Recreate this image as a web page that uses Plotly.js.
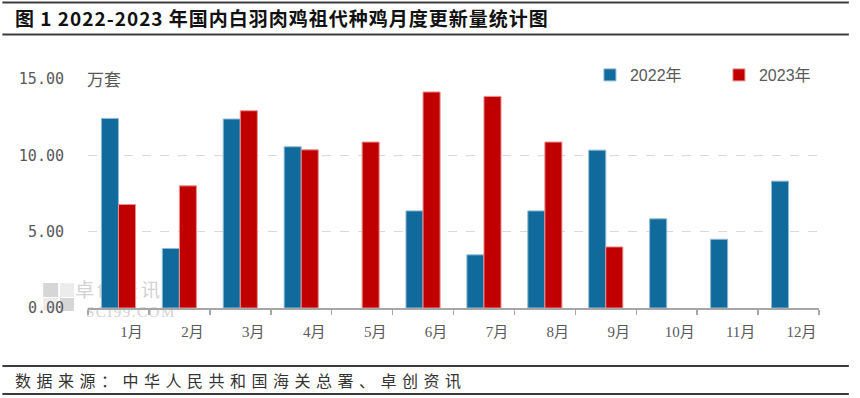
<!DOCTYPE html>
<html>
<head>
<meta charset="utf-8">
<script src="https://cdn.plot.ly/plotly-3.0.1.min.js"></script>
<style>
  html, body { margin: 0; padding: 0; background: #fff; }
  #chart { width: 860px; height: 398px; }
</style>
</head>
<body>
<div id="chart"></div>
<script>
// ---- data ----
const months = ['1月','2月','3月','4月','5月','6月','7月','8月','9月','10月','11月','12月'];
const series2022 = [12.42, 3.90, 12.38, 10.56, null, 6.36, 3.48, 6.36, 10.34, 5.84, 4.50, 8.31];
const series2023 = [6.78, 8.00, 12.92, 10.36, 10.87, 14.15, 13.86, 10.87, 4.00, null, null, null];
const seriesNames = ['2022年', '2023年'];
const yTickVals = [0, 5, 10, 15];
const yTickText = ['0.00', '5.00', '10.00', '15.00'];
const unitLabel = '万套';
const titleText = '图 1 2022-2023 年国内白羽肉鸡祖代种鸡月度更新量统计图';
const sourceText = '数据来源：中华人民共和国海关总署、卓创资讯';

// ---- layout geometry helpers (pixel -> paper) ----
const W = 860, H = 398;
const M = { l: 88, r: 38, t: 79, b: 90 };
const PW = W - M.l - M.r, PH = H - M.t - M.b;
const px = x => (x - M.l) / PW;
const py = y => (H - M.b - y) / PH;

const BLUE = '#106a9c', RED = '#c00000';

const traces = [
  { type: 'bar', name: seriesNames[0], x: months, y: series2022,
    marker: { color: BLUE, line: { color: '#8fbad6', width: 1 } }, hoverinfo: 'skip' },
  { type: 'bar', name: seriesNames[1], x: months, y: series2023,
    marker: { color: RED, line: { color: '#e89090', width: 1 } }, hoverinfo: 'skip' }
];

function hline(y, w) {
  return { type: 'line', xref: 'paper', yref: 'paper', x0: px(2), x1: px(852), y0: py(y), y1: py(y),
           line: { color: '#3c3c3c', width: w } };
}
function rect(x0, y0, x1, y1, c) {
  return { type: 'rect', layer: 'below', xref: 'paper', yref: 'paper', x0: px(x0), x1: px(x1), y0: py(y1), y1: py(y0),
           line: { width: 0 }, fillcolor: c };
}

const layout = {
  width: W, height: H,
  margin: M,
  paper_bgcolor: '#fff', plot_bgcolor: 'rgba(0,0,0,0)',
  barmode: 'group', bargap: 0.44, bargroupgap: 0,
  showlegend: true,
  legend: {
    orientation: 'h', x: px(592), xanchor: 'left', y: py(75), yanchor: 'middle',
    font: { family: 'Liberation Sans, Noto Sans CJK SC', size: 16, color: '#595959' },
    bgcolor: '#fff', itemclick: false, entrywidthmode: 'pixels', entrywidth: 84
  },
  title: {
    text: '<span style="letter-spacing:1px">' + titleText + '</span>',
    font: { family: 'Noto Sans CJK SC', size: 19, weight: 700, color: '#111' },
    x: 15 / W, xanchor: 'left', xref: 'container',
    y: 1 - 19 / H, yanchor: 'middle', yref: 'container'
  },
  xaxis: {
    type: 'category', showgrid: false, zeroline: false,
    showline: true, linecolor: '#a6a6a6', linewidth: 1.5,
    ticks: 'outside', tickson: 'boundaries', ticklen: 5, tickwidth: 1.5, tickcolor: '#a6a6a6',
    tickfont: { family: 'Liberation Serif, Noto Sans CJK SC', size: 15, color: '#595959' },
    ticklabelshift: 13, ticklabelstandoff: 9, fixedrange: true
  },
  yaxis: {
    range: [0, 15], tickmode: 'array', tickvals: yTickVals, ticktext: yTickText,
    showgrid: true, gridcolor: '#d9d9d9', gridwidth: 1, griddash: 'dash',
    zeroline: false, showline: false, ticks: '',
    tickfont: { family: 'DejaVu Sans Mono', size: 15, color: '#595959' },
    ticklabelstandoff: 23, fixedrange: true
  },
  shapes: [
    hline(2.5, 2), hline(34.5, 2), hline(366, 2), hline(394, 2),
    rect(43, 283, 58, 297, '#d6d6d6'), rect(60, 283, 74, 297, '#ececec'),
    rect(43, 298, 58, 311, '#ececec'), rect(60, 298, 74, 311, '#d6d6d6')
  ],
  annotations: [
    { text: '<span style="letter-spacing:3px">卓创资讯</span>', xref: 'paper', yref: 'paper',
      x: px(74), y: py(288), xanchor: 'left', yanchor: 'middle', showarrow: false, borderpad: 0,
      font: { family: 'Noto Sans CJK SC', size: 19, color: '#d2d2d2' } },
    { text: '<span style="letter-spacing:1.5px">SCI99.COM</span>', xref: 'paper', yref: 'paper',
      x: px(85), y: py(312), xanchor: 'left', yanchor: 'middle', showarrow: false, borderpad: 0,
      font: { family: 'Liberation Serif', size: 15, color: '#d2d2d2' } },
    { text: unitLabel, xref: 'paper', yref: 'paper', x: px(85), y: py(78.5),
      xanchor: 'left', yanchor: 'middle', showarrow: false, bgcolor: '#fff',
      font: { family: 'Noto Sans CJK SC', size: 17, color: '#595959' } },
    { text: '<span style="letter-spacing:5.5px">' + sourceText + '</span>', xref: 'paper', yref: 'paper',
      x: px(13), y: py(380), xanchor: 'left', yanchor: 'middle', showarrow: false,
      font: { family: 'Noto Sans CJK SC', size: 16, color: '#333' } }
  ]
};

Plotly.newPlot('chart', traces, layout, { staticPlot: true, displayModeBar: false }).then(gd => {
  // put the faint watermark under the bars, as in the reference
  const below = gd.querySelector('.layer-below');
  if (!below) return;
  gd.querySelectorAll('.infolayer .annotation').forEach(a => {
    const i = +a.getAttribute('data-index');
    if (i < 2) below.appendChild(a);
  });
});
</script>
</body>
</html>
